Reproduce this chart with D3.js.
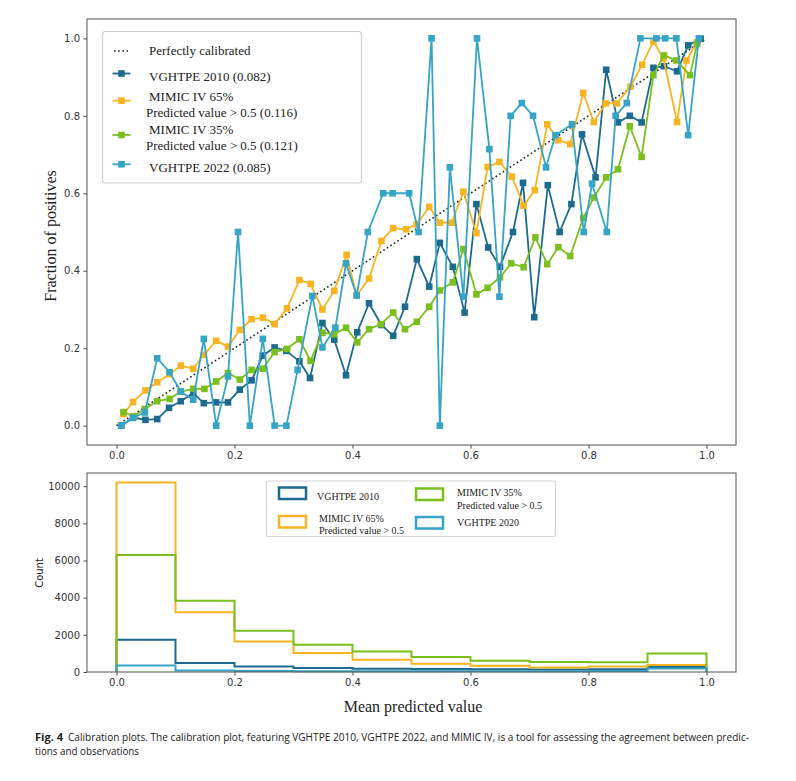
<!DOCTYPE html>
<html>
<head>
<meta charset="utf-8">
<script src="https://cdn.jsdelivr.net/npm/d3@7"></script>
<style>
  html, body { margin: 0; padding: 0; background: #fff; }
  svg { display: block; }
</style>
</head>
<body>
<svg id="chart" width="796" height="781"></svg>
<script>
// ---------------- DATA ----------------
const seriesNames = ["VGHTPE 2010 (0.082)", "MIMIC IV 65%", "MIMIC IV 35%", "VGHTPE 2022 (0.085)"];

const xVGH2010 = [0.008,0.028,0.049,0.069,0.089,0.109,0.130,0.148,0.169,0.189,0.209,0.229,0.248,0.268,0.288,0.310,0.328,0.349,0.369,0.389,0.408,0.428,0.449,0.469,0.489,0.509,0.530,0.548,0.570,0.590,0.610,0.630,0.650,0.672,0.689,0.708,0.731,0.751,0.771,0.789,0.812,0.830,0.850,0.870,0.890,0.910,0.928,0.950,0.969,0.990];
const yVGH2010 = [0.0,0.021,0.015,0.017,0.046,0.063,0.084,0.058,0.06,0.06,0.093,0.117,0.181,0.202,0.193,0.166,0.123,0.265,0.222,0.13,0.241,0.316,0.26,0.232,0.307,0.43,0.359,0.472,0.41,0.292,0.572,0.46,0.41,0.50,0.627,0.28,0.621,0.50,0.572,0.752,0.641,0.919,0.783,0.80,0.783,0.924,0.928,0.915,0.982,0.999];

const xMIMIC65 = [0.012,0.028,0.049,0.069,0.090,0.109,0.130,0.148,0.169,0.189,0.209,0.229,0.248,0.268,0.289,0.310,0.329,0.349,0.369,0.390,0.407,0.428,0.449,0.469,0.491,0.509,0.530,0.548,0.568,0.588,0.610,0.629,0.649,0.670,0.690,0.709,0.730,0.749,0.769,0.791,0.809,0.829,0.848,0.871,0.891,0.910,0.927,0.950,0.966,0.984];
const yMIMIC65 = [0.03,0.061,0.091,0.112,0.133,0.155,0.147,0.183,0.219,0.204,0.247,0.275,0.279,0.262,0.303,0.376,0.366,0.30,0.348,0.441,0.336,0.38,0.477,0.51,0.507,0.52,0.565,0.524,0.524,0.604,0.497,0.668,0.681,0.643,0.568,0.608,0.778,0.737,0.727,0.859,0.784,0.832,0.832,0.875,0.932,0.992,0.948,0.784,0.943,0.99];

const xMIMIC35 = [0.012,0.029,0.048,0.069,0.090,0.109,0.130,0.149,0.169,0.189,0.209,0.229,0.248,0.268,0.289,0.310,0.329,0.349,0.369,0.389,0.408,0.428,0.448,0.469,0.489,0.509,0.530,0.548,0.570,0.588,0.610,0.629,0.650,0.669,0.690,0.710,0.730,0.749,0.769,0.791,0.809,0.830,0.850,0.870,0.890,0.910,0.928,0.949,0.972,0.984];
const yMIMIC35 = [0.035,0.024,0.043,0.063,0.069,0.088,0.095,0.095,0.114,0.136,0.119,0.144,0.147,0.19,0.198,0.223,0.167,0.24,0.236,0.253,0.215,0.249,0.262,0.292,0.249,0.268,0.307,0.349,0.37,0.456,0.339,0.356,0.383,0.419,0.409,0.486,0.417,0.461,0.438,0.536,0.589,0.641,0.662,0.773,0.694,0.905,0.956,0.943,0.905,0.986];

const xVGH2022 = [0.008,0.028,0.048,0.069,0.090,0.109,0.130,0.148,0.169,0.189,0.206,0.226,0.248,0.268,0.288,0.307,0.332,0.349,0.371,0.389,0.407,0.426,0.452,0.468,0.496,0.512,0.534,0.548,0.565,0.588,0.611,0.632,0.649,0.668,0.687,0.706,0.728,0.744,0.772,0.792,0.806,0.831,0.846,0.865,0.888,0.915,0.930,0.949,0.969,0.987];
const yVGH2022 = [0.0,0.02,0.034,0.174,0.138,0.088,0.067,0.224,0.0,0.127,0.50,0.0,0.224,0.0,0.0,0.144,0.335,0.202,0.253,0.419,0.336,0.50,0.60,0.60,0.60,0.50,1.0,0.0,0.667,0.333,1.0,0.714,0.333,0.80,0.833,0.80,0.667,0.75,0.778,0.50,0.625,0.50,0.80,0.833,1.0,1.0,1.0,1.0,0.75,1.0];

const calibratedLine = [0, 1];

const binEdges = [0.0,0.1,0.2,0.3,0.4,0.5,0.6,0.7,0.8,0.9,1.0];
const histVGH2010 = [1735, 480, 300, 215, 175, 160, 150, 140, 145, 265];
const histMIMIC65 = [10200, 3220, 1640, 1020, 660, 445, 338, 247, 300, 376];
const histMIMIC35 = [6300, 3840, 2215, 1465, 1105, 805, 607, 537, 520, 1000];
const histVGH2020 = [355, 85, 55, 40, 35, 35, 40, 45, 55, 185];

const xTickValues = [0.0, 0.2, 0.4, 0.6, 0.8, 1.0];
const yTickValuesTop = [0.0, 0.2, 0.4, 0.6, 0.8, 1.0];
const yTickValuesBottom = [0, 2000, 4000, 6000, 8000, 10000];

// ---------------- STYLE ----------------
const C2010 = "#1c6a8d", C65 = "#f6b422", C35 = "#7bbf1f", C2022 = "#35a4c6";
const serif = "'Liberation Serif', 'Times New Roman', serif";
const sans = "'DejaVu Sans', sans-serif";

const svg = d3.select("#chart");

// ---------------- SCALES ----------------
const L = 87, R = 736;
const x = d3.scaleLinear().domain([-0.05, 1.05]).range([L, R]);
const yT = d3.scaleLinear().domain([-0.05, 1.05]).range([445, 19]);
const yB = d3.scaleLinear().domain([0, 10710]).range([672, 473]);

// ---------------- TOP PANEL ----------------
const topG = svg.append("g");
topG.append("rect").attr("x", L).attr("y", 19).attr("width", R - L).attr("height", 445 - 19)
  .attr("fill", "#fff");

function styleAxis(g) {
  g.select(".domain").remove();
  g.selectAll(".tick line").attr("stroke", "#333").attr("stroke-width", 0.9);
  g.selectAll(".tick text").attr("fill", "#333").style("font-family", sans).style("font-size", "10px");
}

topG.append("g").attr("transform", "translate(0,445)")
  .call(d3.axisBottom(x).tickValues(xTickValues).tickFormat(d3.format(".1f")).tickSize(3.5).tickPadding(3.5))
  .call(styleAxis);
topG.append("g").attr("transform", `translate(${L},0)`)
  .call(d3.axisLeft(yT).tickValues(yTickValuesTop).tickFormat(d3.format(".1f")).tickSize(3.5).tickPadding(3.5))
  .call(styleAxis);

// perfectly calibrated
topG.append("line")
  .attr("x1", x(calibratedLine[0])).attr("y1", yT(calibratedLine[0]))
  .attr("x2", x(calibratedLine[1])).attr("y2", yT(calibratedLine[1]))
  .attr("stroke", "#222").attr("stroke-width", 1.6).attr("stroke-dasharray", "1.6,2.6");

const series = [
  { xs: xVGH2010, ys: yVGH2010, color: C2010 },
  { xs: xMIMIC65, ys: yMIMIC65, color: C65 },
  { xs: xMIMIC35, ys: yMIMIC35, color: C35 },
  { xs: xVGH2022, ys: yVGH2022, color: C2022 }
];
const line = d3.line().x(d => x(d[0])).y(d => yT(d[1]));
const MS = 6.6;
series.forEach(s => {
  const pts = s.xs.map((v, i) => [v, s.ys[i]]);
  const g = topG.append("g");
  g.append("path").datum(pts).attr("d", line).attr("fill", "none")
    .attr("stroke", s.color).attr("stroke-width", 1.8).attr("stroke-linejoin", "round");
  g.selectAll("rect").data(pts).enter().append("rect")
    .attr("x", d => x(d[0]) - MS / 2).attr("y", d => yT(d[1]) - MS / 2)
    .attr("width", MS).attr("height", MS).attr("fill", s.color);
});

// frame
topG.append("rect").attr("x", L).attr("y", 19).attr("width", R - L).attr("height", 445 - 19)
  .attr("fill", "none").attr("stroke", "#555").attr("stroke-width", 1);

// y label
topG.append("text").attr("transform", "translate(56,236) rotate(-90)")
  .attr("text-anchor", "middle").style("font-family", serif).style("font-size", "16px")
  .attr("fill", "#222").text("Fraction of positives");

// legend
const lg = topG.append("g");
lg.append("rect").attr("x", 102.5).attr("y", 31.5).attr("width", 259).attr("height", 151.5)
  .attr("rx", 3).attr("fill", "#fff").attr("fill-opacity", 0.9)
  .attr("stroke", "#cfcfcf").attr("stroke-width", 1.2);
lg.append("line").attr("x1", 114).attr("x2", 128).attr("y1", 51).attr("y2", 51)
  .attr("stroke", "#222").attr("stroke-width", 1.6).attr("stroke-dasharray", "1.6,2.6");
const legItems = [
  { color: C2010, my: 73.5 },
  { color: C65, my: 100.7 },
  { color: C35, my: 135 },
  { color: C2022, my: 164.3 }
];
legItems.forEach(it => {
  lg.append("line").attr("x1", 112.5).attr("x2", 130.5).attr("y1", it.my).attr("y2", it.my)
    .attr("stroke", it.color).attr("stroke-width", 1.8);
  lg.append("rect").attr("x", 121.5 - MS / 2).attr("y", it.my - MS / 2).attr("width", MS).attr("height", MS)
    .attr("fill", it.color);
});
const legTexts = [
  { t: "Perfectly calibrated", x: 149, y: 55 },
  { t: seriesNames[0], x: 149, y: 81 },
  { t: seriesNames[1], x: 149, y: 101 },
  { t: "Predicted value > 0.5 (0.116)", x: 146, y: 117 },
  { t: seriesNames[2], x: 149, y: 133.5 },
  { t: "Predicted value > 0.5 (0.121)", x: 146, y: 150 },
  { t: seriesNames[3], x: 149, y: 172 }
];
legTexts.forEach(d => {
  lg.append("text").attr("x", d.x).attr("y", d.y).style("font-family", serif)
    .style("font-size", "13px").attr("fill", "#222").text(d.t);
});

// ---------------- BOTTOM PANEL ----------------
const bot = svg.append("g");
bot.append("g").attr("transform", "translate(0,672)")
  .call(d3.axisBottom(x).tickValues(xTickValues).tickFormat(d3.format(".1f")).tickSize(3.5).tickPadding(3.5))
  .call(styleAxis);
bot.append("g").attr("transform", `translate(${L},0)`)
  .call(d3.axisLeft(yB).tickValues(yTickValuesBottom).tickFormat(d3.format("d")).tickSize(3.5).tickPadding(3.5))
  .call(styleAxis);

const histSeries = [
  { counts: histVGH2010, color: C2010 },
  { counts: histMIMIC65, color: C65 },
  { counts: histMIMIC35, color: C35 },
  { counts: histVGH2020, color: C2022 }
];
const stepLine = d3.line().x(d => x(d[0])).y(d => yB(d[1]));
histSeries.forEach(h => {
  const pts = [[binEdges[0], 0]];
  h.counts.forEach((c, i) => { pts.push([binEdges[i], c]); pts.push([binEdges[i + 1], c]); });
  pts.push([binEdges[binEdges.length - 1], 0]);
  bot.append("path").datum(pts).attr("d", stepLine).attr("fill", "none")
    .attr("stroke", h.color).attr("stroke-width", 2).attr("stroke-linejoin", "miter");
});

bot.append("rect").attr("x", L).attr("y", 473).attr("width", R - L).attr("height", 672 - 473)
  .attr("fill", "none").attr("stroke", "#555").attr("stroke-width", 1);

bot.append("text").attr("transform", "translate(43,573) rotate(-90)")
  .attr("text-anchor", "middle").style("font-family", sans).style("font-size", "10px")
  .attr("fill", "#222").text("Count");
bot.append("text").attr("x", 413).attr("y", 712).attr("text-anchor", "middle")
  .style("font-family", serif).style("font-size", "16px").attr("fill", "#222")
  .text("Mean predicted value");

// histogram legend
const hl = bot.append("g");
hl.append("rect").attr("x", 266.5).attr("y", 481).attr("width", 289).attr("height", 55.5)
  .attr("rx", 2).attr("fill", "#fff").attr("fill-opacity", 0.9)
  .attr("stroke", "#d5d5d5").attr("stroke-width", 1.2);
const hPatches = [
  { color: C2010, px: 279, py: 487.5 },
  { color: C65, px: 279, py: 516 },
  { color: C35, px: 416, py: 488.5 },
  { color: C2022, px: 416, py: 517 }
];
hPatches.forEach(p => {
  hl.append("rect").attr("x", p.px).attr("y", p.py).attr("width", 27).attr("height", 11.5)
    .attr("fill", "none").attr("stroke", p.color).attr("stroke-width", 2.5);
});
const hTexts = [
  { t: "VGHTPE 2010", x: 317, y: 499.5 },
  { t: "MIMIC IV 65%", x: 319, y: 521.5 },
  { t: "Predicted value > 0.5", x: 319, y: 534 },
  { t: "MIMIC IV 35%", x: 457, y: 496 },
  { t: "Predicted value > 0.5", x: 457, y: 508.5 },
  { t: "VGHTPE 2020", x: 457, y: 526 }
];
hTexts.forEach(d => {
  hl.append("text").attr("x", d.x).attr("y", d.y).style("font-family", serif)
    .style("font-size", "10px").attr("fill", "#222").text(d.t);
});

// ---------------- CAPTION ----------------
const cap = svg.append("g").style("font-family", "'Open Sans', 'Noto Sans', sans-serif").attr("fill", "#222");
cap.append("text").attr("x", 35).attr("y", 741).style("font-size", "10.5px").style("font-weight", "bold")
  .attr("textLength", 28).attr("lengthAdjust", "spacingAndGlyphs").text("Fig. 4");
cap.append("text").attr("x", 68).attr("y", 741).style("font-size", "10.5px")
  .attr("textLength", 681).attr("lengthAdjust", "spacingAndGlyphs")
  .text("Calibration plots. The calibration plot, featuring VGHTPE 2010, VGHTPE 2022, and MIMIC IV, is a tool for assessing the agreement between predic-");
cap.append("text").attr("x", 35).attr("y", 755).style("font-size", "10.5px")
  .attr("textLength", 104).attr("lengthAdjust", "spacingAndGlyphs")
  .text("tions and observations");
</script>
</body>
</html>
